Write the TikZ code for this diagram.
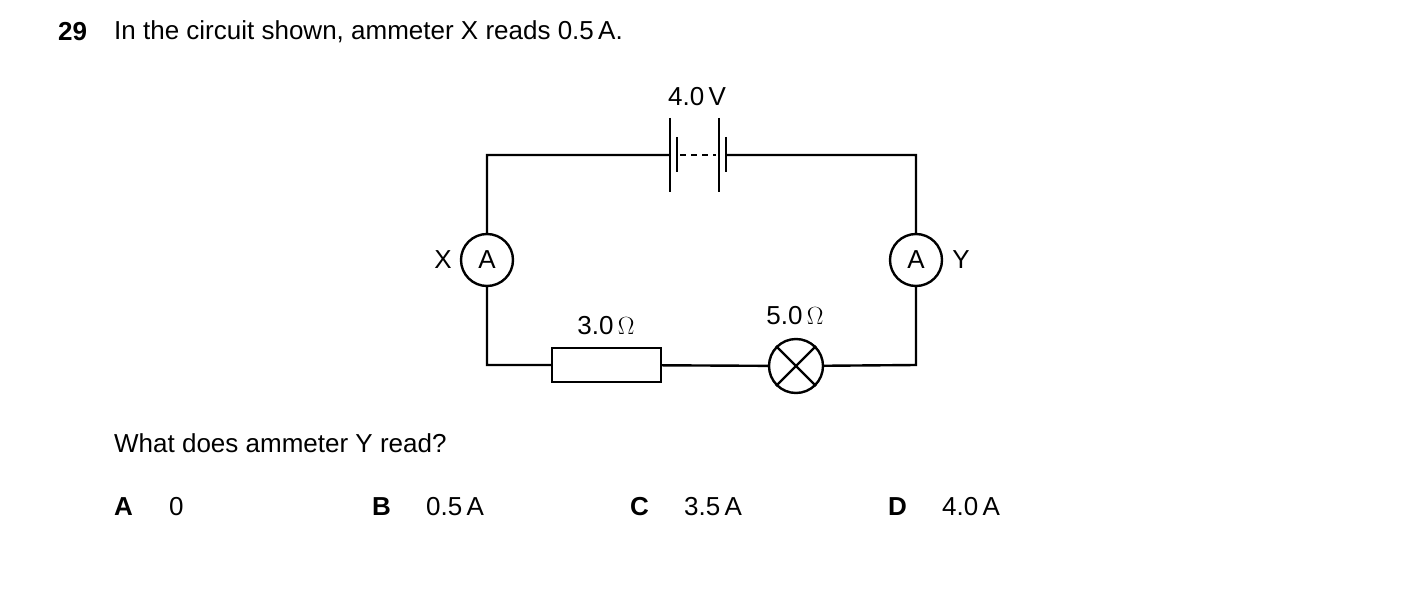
\documentclass[tikz,border=0pt]{standalone}
\usepackage{fontspec}
\setmainfont{Liberation Sans}
\begin{document}
\begin{tikzpicture}[x=1pt,y=-1pt,line width=2.4pt,
  txt/.style={font=\fontsize{26}{30}\selectfont,inner sep=0pt},
  meter/.style={draw,circle,minimum size=52pt,inner sep=0pt,fill=white,font=\fontsize{26}{30}\selectfont},
  lbl/.style={txt,anchor=west}]
\useasboundingbox (0,0) rectangle (1403,615);
\node[lbl] (n29) at (57,32) {\textbf{29}};
\node[lbl] (q) at (113,32) {In the circuit shown, ammeter X reads 0.5\,A.};
\coordinate (tl) at (487,155); \coordinate (tr) at (916,155);
\coordinate (bl) at (487,365); \coordinate (br) at (916,365);
\coordinate (b1) at (670,155); \coordinate (b2) at (726,155);
\node[meter] (ax) at (487,260) {A};
\node[meter] (ay) at (916,260) {A};
\node[draw,minimum width=109pt,minimum height=34pt,inner sep=0pt] (r) at (606.5,365) {};
\node[draw,circle,minimum size=54pt,inner sep=0pt] (lamp) at (796,366) {};
\draw (b1) -- (tl) -- (ax) -- (bl) -- (r) -- (lamp) -- (br) -- (ay) -- (tr) -- (b2);
\draw (lamp.north west) -- (lamp.south east) (lamp.north east) -- (lamp.south west);
% battery
\draw (670,118) -- (670,192) (677,137) -- (677,172);
\draw (719,118) -- (719,192) (726,137) -- (726,172);
\draw[dash pattern=on 6pt off 5pt] (680,155) -- (716,155);
\node[txt] (v) at (697,97) {4.0\,V};
\node[txt] (r1) at (606,326) {3.0\,$\Omega$};
\node[txt] (r2) at (795,316) {5.0\,$\Omega$};
\node[txt] (lx) at (443,260) {X};
\node[txt] (ly) at (961,260) {Y};
\node[lbl] (w) at (113,443) {What does ammeter Y read?};
\node[lbl] (oA) at (113,507) {\textbf{A}}; \node[lbl] (vA) at (168,507) {0};
\node[lbl] (oB) at (371,507) {\textbf{B}}; \node[lbl] (vB) at (425,507) {0.5\,A};
\node[lbl] (oC) at (629,507) {\textbf{C}}; \node[lbl] (vC) at (683,507) {3.5\,A};
\node[lbl] (oD) at (887,507) {\textbf{D}}; \node[lbl] (vD) at (941,507) {4.0\,A};
\end{tikzpicture}
\end{document}
